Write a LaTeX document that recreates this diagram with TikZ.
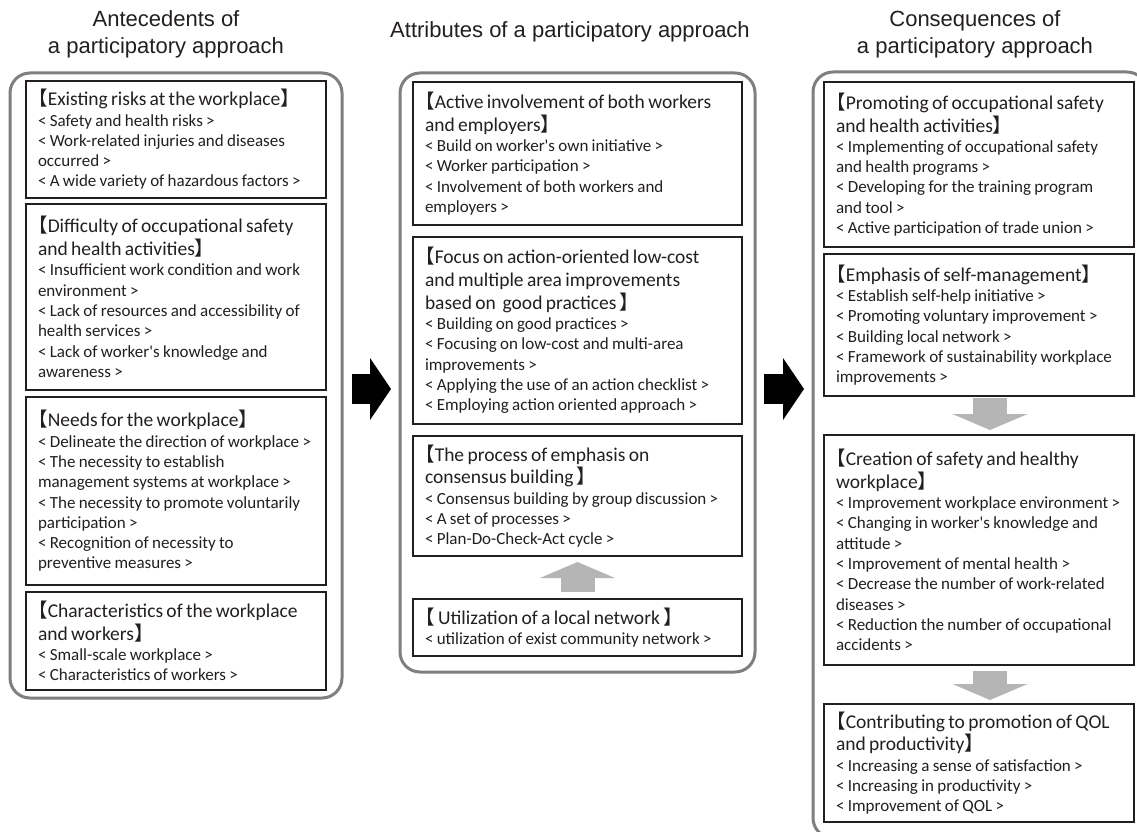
\documentclass[tikz,border=0pt]{standalone}
\usepackage{fontspec}
\usepackage{xcolor}
\usepackage{tikz}
\usetikzlibrary{arrows.meta}
\setmainfont{Carlito}
\newfontfamily\titlefont{Liberation Sans}
\newfontfamily\cjk{Noto Sans CJK JP}[RawFeature=+halt]
\definecolor{inkdark}{HTML}{231F20}
\definecolor{framegray}{HTML}{7F7F7F}
\definecolor{arrowgray}{HTML}{B5B5B5}
\setlength{\parindent}{0pt}
\setlength{\parskip}{0pt}
\newcommand{\lbrk}{{\cjk 【}}
\newcommand{\rbrk}{{\cjk 】}}
\newcommand{\hd}[1]{{\fontsize{19.5}{22.8}\selectfont\rightskip=-30pt plus 1fil #1\par}}
\newcommand{\bd}[1]{{\fontsize{17}{20.3}\selectfont\rightskip=-30pt plus 1fil #1\par}}

\begin{document}
\begin{tikzpicture}[x=1pt,y=-1pt,
  outerbox/.style={draw=framegray,line width=3pt,rounded corners=20pt,anchor=north west,inner sep=0pt,outer sep=0pt},
  inbox/.style={draw=inkdark,line width=1.3pt,anchor=north west,align=left,inner xsep=12pt,inner ysep=4pt,outer sep=0pt,text=inkdark},
  leftbox/.style={inbox,text width=276pt},
  midbox/.style={inbox,text width=305pt},
  rightbox/.style={inbox,text width=286pt},
  coltitle/.style={font=\titlefont\fontsize{22}{27}\selectfont,align=center,text=inkdark},
  blackarrow/.style={line width=30pt,draw=black,-{Triangle[width=62pt,length=21pt,line width=0pt]}},
  grayarrow/.style={line width=34pt,draw=arrowgray,-{Triangle[width=75pt,length=16pt,line width=0pt]}}]
  \useasboundingbox (0,0) rectangle (1137,832);
  \clip (0,0) rectangle (1137,832);
  \fill[white] (0,0) rectangle (1137,832);

  % Column titles
  \node[coltitle] (antetitle) at (166,34) {Antecedents of\\a participatory approach};
  \node[coltitle] (attrtitle) at (570,32) {Attributes of a participatory approach};
  \node[coltitle] (constitle) at (975,34) {Consequences of\\a participatory approach};

  % Outer frames
  \node[outerbox,minimum width=332pt,minimum height=625pt] (ante) at (10,73) {};
  \node[outerbox,minimum width=355pt,minimum height=599pt] (attr) at (400,73) {};
  \node[outerbox,minimum width=334pt,minimum height=766pt] (cons) at (813,72) {};

  % Antecedents
  \node[leftbox,minimum height=117pt] (risk) at (26,81) {%
    \hd{\lbrk Existing risks at the workplace\rbrk}
    \bd{< Safety and health risks >\\
    < Work-related injuries and diseases\\
    occurred >\\
    < A wide variety of hazardous factors >}};
  \node[leftbox,minimum height=186pt] (diff) at (26,204) {%
    \hd{\lbrk Difficulty of occupational safety\\and health activities\rbrk}
    \bd{< Insufficient work condition and work\\
    environment >\\
    < Lack of resources and accessibility of\\
    health services >\\
    < Lack of worker\textquotesingle s knowledge and\\
    awareness >}};
  \node[leftbox,minimum height=188pt] (need) at (26,397) {%
    \hd{\lbrk Needs for the workplace\rbrk}
    \bd{< Delineate the direction of workplace >\\
    < The necessity to establish\\
    management systems at workplace >\\
    < The necessity to promote voluntarily\\
    participation >\\
    < Recognition of necessity to\\
    preventive measures >}};
  \node[leftbox,minimum height=98pt] (chara) at (26,592) {%
    \hd{\lbrk Characteristics of the workplace\\and workers\rbrk}
    \bd{< Small-scale workplace >\\
    < Characteristics of workers >}};

  % Attributes
  \node[midbox,minimum height=143pt] (invol) at (413,82) {%
    \hd{\lbrk Active involvement of both workers\\and employers\rbrk}
    \bd{< Build on worker\textquotesingle s own initiative >\\
    < Worker participation >\\
    < Involvement of both workers and\\
    employers >}};
  \node[midbox,minimum height=187pt] (focus) at (413,237) {%
    \hd{\lbrk Focus on action-oriented low-cost\\and multiple area improvements\\based on\ \ good practices \rbrk}
    \bd{< Building on good practices >\\
    < Focusing on low-cost and multi-area\\
    improvements >\\
    < Applying the use of an action checklist >\\
    < Employing action oriented approach >}};
  \node[midbox,minimum height=120pt] (proc) at (413,436) {%
    \hd{\lbrk The process of emphasis on\\consensus building \rbrk}
    \bd{< Consensus building by group discussion >\\
    < A set of processes >\\
    < Plan-Do-Check-Act cycle >}};
  \node[midbox,minimum height=57pt] (net) at (413,599) {%
    \hd{\lbrk\ Utilization of a local network \rbrk}
    \bd{< utilization of exist community network >}};

  % Consequences
  \node[rightbox,minimum height=165pt] (promo) at (824,82) {%
    \hd{\lbrk Promoting of occupational safety\\and health activities\rbrk}
    \bd{< Implementing of occupational safety\\
    and health programs >\\
    < Developing for the training program\\
    and tool >\\
    < Active participation of trade union >}};
  \node[rightbox,minimum height=142pt] (emph) at (824,254) {%
    \hd{\lbrk Emphasis of self-management\rbrk}
    \bd{< Establish self-help initiative >\\
    < Promoting voluntary improvement >\\
    < Building local network >\\
    < Framework of sustainability workplace\\
    improvements >}};
  \node[rightbox,minimum height=230pt] (create) at (824,435) {%
    \hd{\lbrk Creation of safety and healthy\\workplace\rbrk}
    \bd{< Improvement workplace environment >\\
    < Changing in worker\textquotesingle s knowledge and\\
    attitude >\\
    < Improvement of mental health >\\
    < Decrease the number of work-related\\
    diseases >\\
    < Reduction the number of occupational\\
    accidents >}};
  \node[rightbox,minimum height=118pt] (qol) at (824,704) {%
    \hd{\lbrk Contributing to promotion of QOL\\and productivity\rbrk}
    \bd{< Increasing a sense of satisfaction >\\
    < Increasing in productivity >\\
    < Improvement of QOL >}};

  % Arrows between columns and boxes
  \coordinate (arrowrow) at (0,389);
  \draw[blackarrow,shorten <=10pt,shorten >=9pt] (ante.east |- arrowrow) -- (attr.west |- arrowrow);
  \draw[blackarrow,shorten <=9pt,shorten >=9pt] (attr.east |- arrowrow) -- (cons.west |- arrowrow);
  \draw[grayarrow,shorten <=7pt,shorten >=6pt] (net.north) -- (proc.south);
  \draw[grayarrow,shorten <=2pt,shorten >=5pt] ([xshift=11pt]emph.south) -- ([xshift=11pt]create.north);
  \draw[grayarrow,shorten <=6pt,shorten >=4pt] ([xshift=11pt]create.south) -- ([xshift=11pt]qol.north);
\end{tikzpicture}
\end{document}
